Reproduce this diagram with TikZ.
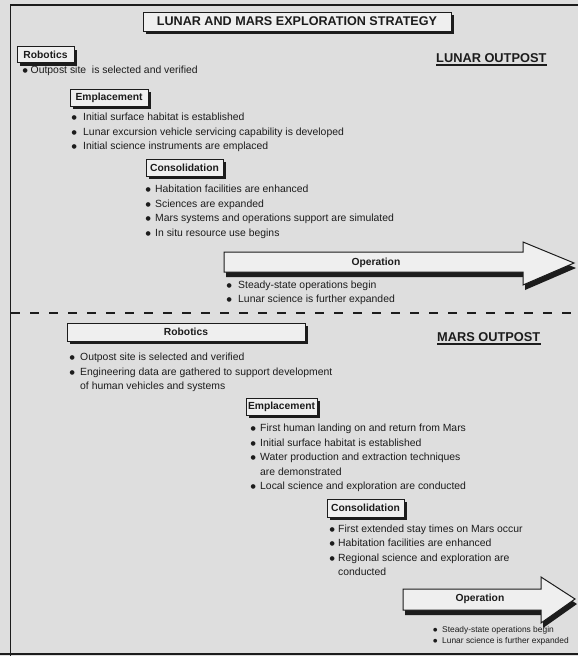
\documentclass[tikz,border=0pt]{standalone}
\usepackage{fontspec}
\setmainfont{Liberation Sans}
\newfontfamily\djv{DejaVu Sans}
\usetikzlibrary{shadows}
\definecolor{bg}{RGB}{222,222,222}
\definecolor{boxfill}{RGB}{239,239,239}
\definecolor{ink}{RGB}{28,28,28}
\newcommand\bulletglyph{\raisebox{0.9pt}{\djv\fontsize{6}{6}\selectfont ●}}
\newcommand\smallbullet{\raisebox{0.7pt}{\djv\fontsize{5}{5}\selectfont ●}}
\newcommand\itm[2]{\llap{\makebox[0pt][c]{\bulletglyph}\hspace*{#1}}#2}
\newcommand\sitm[2]{\llap{\makebox[0pt][c]{\smallbullet}\hspace*{#1}}#2}
\tikzset{
  lbl/.style={draw=ink, line width=1pt, fill=boxfill, inner sep=0pt,
    font=\fontsize{10.3}{12}\selectfont\bfseries, text=ink,
    drop shadow={shadow xshift=3pt, shadow yshift=-3pt, fill=ink, opacity=1}},
  txt/.style={anchor=base west, inner sep=0pt, font=\fontsize{10.4}{12}\selectfont, text=ink},
  smalltxt/.style={anchor=base west, inner sep=0pt, font=\fontsize{8.4}{10}\selectfont, text=ink},
  hdr/.style={anchor=base west, inner sep=0pt, font=\fontsize{12.8}{14}\selectfont\bfseries, text=ink},
  oplbl/.style={inner sep=0pt, font=\fontsize{10.3}{12}\selectfont\bfseries, text=ink},
  arrowbody/.style={draw=ink, line width=1pt, fill=boxfill, line join=miter},
  arrowshadow/.style={fill=ink},
  uline/.style={draw=ink, line width=1.3pt},
}
\begin{document}
\begin{tikzpicture}[x=1pt,y=-1pt]
\useasboundingbox (0,0) rectangle (578,656);
\fill[bg] (0,0) rectangle (578,656);
% frame
\draw[ink, line width=1.3pt] (578,5) -- (10.5,5) -- (10.5,656);
\draw[ink, line width=1.3pt] (0,654) -- (578,654);
% title
\node[lbl, font=\fontsize{12.6}{14}\selectfont\bfseries, minimum width=308pt, minimum height=19pt] (title) at (297,21.5) {LUNAR AND MARS EXPLORATION STRATEGY};

% ---------------- LUNAR ----------------
\node[hdr] (lo) at (436,62.5) {LUNAR OUTPOST};
\draw[uline] ([yshift=-2.5pt]lo.base west) -- ([yshift=-2.5pt]lo.base east);

\node[lbl, minimum width=57pt, minimum height=16pt] (lr) at (45.5,54.5) {Robotics};
\node[txt] (lr1) at (30.5,73) {\itm{5.5pt}{Outpost site\ \ is selected and verified}};

\node[lbl, minimum width=78pt, minimum height=17pt] (le) at (109,97.5) {Emplacement};
\node[txt] (le1) at (83,120.5) {\itm{9pt}{Initial surface habitat is established}};
\node[txt] (le2) at (83,135) {\itm{9pt}{Lunar excursion vehicle servicing capability is developed}};
\node[txt] (le3) at (83,149.5) {\itm{9pt}{Initial science instruments are emplaced}};

\node[lbl, minimum width=77pt, minimum height=17pt] (lc) at (184.5,167.5) {Consolidation};
\node[txt] (lc1) at (155,192.5) {\itm{7pt}{Habitation facilities are enhanced}};
\node[txt] (lc2) at (155,207.5) {\itm{7pt}{Sciences are expanded}};
\node[txt] (lc3) at (155,221.5) {\itm{7pt}{Mars systems and operations support are simulated}};
\node[txt] (lc4) at (155,236.5) {\itm{7pt}{In situ resource use begins}};

\fill[arrowshadow] (226,257) -- (525,257) -- (525,247) -- (576,268) -- (525,290) -- (525,277) -- (226,277) -- cycle;
\draw[arrowbody] (224,252) -- (523,252) -- (523,242) -- (574,263) -- (523,285) -- (523,272) -- (224,272) -- cycle;
\node[oplbl] (lop) at (376,263) {Operation};
\node[txt] (lop1) at (238,288.5) {\itm{9pt}{Steady-state operations begin}};
\node[txt] (lop2) at (238,302.5) {\itm{9pt}{Lunar science is further expanded}};

% divider
\draw[ink, line width=2pt, dash pattern=on 9pt off 10pt] (11,313) -- (578,313);

% ---------------- MARS ----------------
\node[hdr] (mo) at (437,341.5) {MARS OUTPOST};
\draw[uline] ([yshift=-2.5pt]mo.base west) -- ([yshift=-2.5pt]mo.base east);

\node[lbl, minimum width=238pt, minimum height=18pt] (mr) at (186,332) {Robotics};
\node[txt] (mr1) at (80,360.5) {\itm{8pt}{Outpost site is selected and verified}};
\node[txt] (mr2) at (80,375.5) {\itm{8pt}{Engineering data are gathered to support development}};
\node[txt] (mr2b) at (80,389.5) {of human vehicles and systems};

\node[lbl, minimum width=71pt, minimum height=17pt] (me) at (281.5,406.5) {Emplacement};
\node[txt] (me1) at (260,431.5) {\itm{7pt}{First human landing on and return from Mars}};
\node[txt] (me2) at (260,446.5) {\itm{7pt}{Initial surface habitat is established}};
\node[txt] (me3) at (260,460.5) {\itm{7pt}{Water production and extraction techniques}};
\node[txt] (me3b) at (260,475.5) {are demonstrated};
\node[txt] (me4) at (260,489.5) {\itm{7pt}{Local science and exploration are conducted}};

\node[lbl, minimum width=77pt, minimum height=18pt] (mc) at (365.5,508) {Consolidation};
\node[txt] (mc1) at (338,532.5) {\itm{6pt}{First extended stay times on Mars occur}};
\node[txt] (mc2) at (338,546.5) {\itm{6pt}{Habitation facilities are enhanced}};
\node[txt] (mc3) at (338,561.5) {\itm{6pt}{Regional science and exploration are}};
\node[txt] (mc3b) at (338,575.5) {conducted};

\fill[arrowshadow] (405,594) -- (543,594) -- (543,582) -- (577,604) -- (543,628) -- (543,615) -- (405,615) -- cycle;
\draw[arrowbody] (403,589) -- (541,589) -- (541,577) -- (575,599) -- (541,623) -- (541,610) -- (403,610) -- cycle;
\node[oplbl] (mop) at (480,599) {Operation};
\node[smalltxt] (mop1) at (442,632) {\sitm{7pt}{Steady-state operations begin}};
\node[smalltxt] (mop2) at (442,643) {\sitm{7pt}{Lunar science is further expanded}};
\end{tikzpicture}
\end{document}
